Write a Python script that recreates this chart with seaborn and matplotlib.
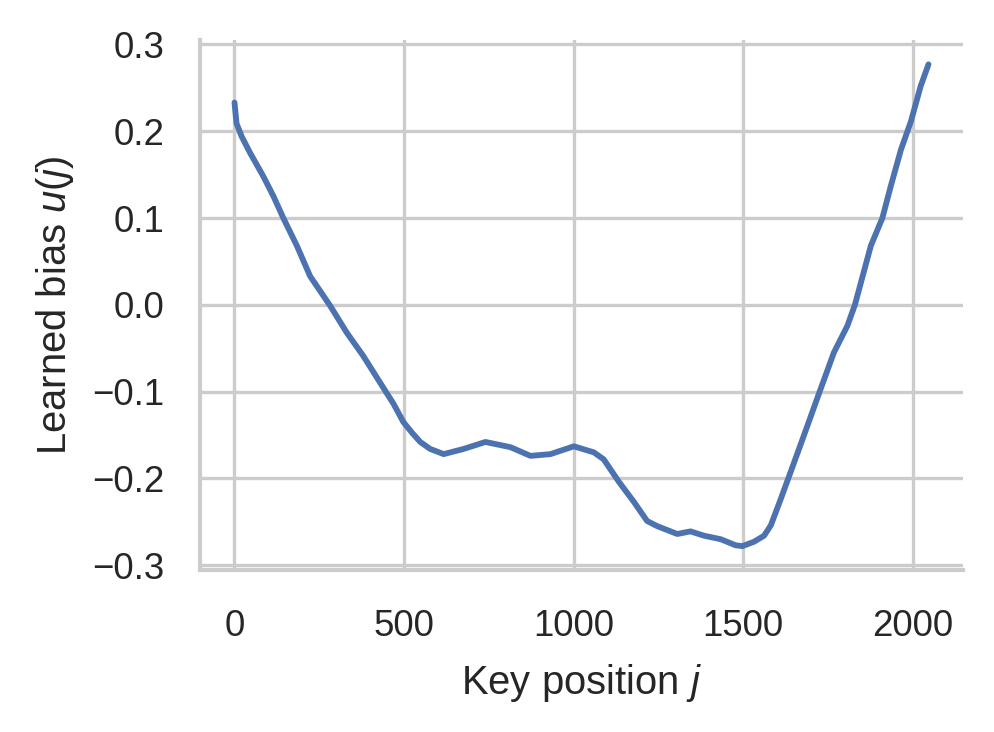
import matplotlib
matplotlib.use("Agg")
import matplotlib.pyplot as plt
import seaborn as sns

# ── data ─────────────────────────────────────────────────────────────────────
key_pos = [0, 6, 21, 46, 85, 115, 144, 184, 223, 282, 331, 380, 430, 469,
           498, 525, 548, 577, 617, 676, 740, 814, 873, 932, 1001, 1060,
           1089, 1134, 1178, 1217, 1247, 1306, 1345, 1385, 1434, 1478, 1498,
           1532, 1562, 1582, 1611, 1640, 1680, 1726, 1768, 1808, 1830, 1877,
           1911, 1936, 1966, 1995, 2024, 2047]
bias = [0.233, 0.209, 0.194, 0.175, 0.148, 0.125, 0.100, 0.068, 0.033,
        -0.001, -0.032, -0.059, -0.090, -0.114, -0.135, -0.148, -0.158,
        -0.166, -0.172, -0.166, -0.158, -0.164, -0.174, -0.172, -0.163,
        -0.170, -0.178, -0.204, -0.227, -0.249, -0.255, -0.264, -0.261,
        -0.266, -0.270, -0.277, -0.278, -0.273, -0.266, -0.254, -0.224,
        -0.193, -0.150, -0.100, -0.055, -0.024, 0.000, 0.068, 0.100, 0.137,
        0.179, 0.211, 0.252, 0.277]

sns.set_theme(style='whitegrid', context='paper')
plt.rcParams['font.family'] = ['Liberation Sans', 'DejaVu Sans']
plt.rcParams['mathtext.fontset'] = 'custom'
plt.rcParams['mathtext.rm'] = 'Liberation Sans'
plt.rcParams['mathtext.it'] = 'Liberation Sans:italic'

fig = plt.figure(figsize=(994 / 300, 732 / 300), dpi=300)
ax = fig.add_axes([0.201, 0.221, 0.768, 0.724])

sns.lineplot(x=key_pos, y=bias, ax=ax, color='#4C72B0', lw=1.4)

ax.set_xticks([0, 500, 1000, 1500, 2000])
ax.set_yticks([-0.3, -0.2, -0.1, 0.0, 0.1, 0.2, 0.3])
ax.set_yticklabels(['\u22120.3', '\u22120.2', '\u22120.1', '0.0',
                    '0.1', '0.2', '0.3'])
ax.tick_params(axis='y', length=0, pad=8.4, labelsize=8.8)
ax.tick_params(axis='x', length=0, pad=9.4, labelsize=8.8)
ax.set_xlabel(r'Key position $j$', fontsize=9.6, labelpad=4.2)
ax.set_ylabel(r'Learned bias $u(j)$', fontsize=9.6)
sns.despine(ax=ax)

fig.savefig('out.png', dpi=300)
